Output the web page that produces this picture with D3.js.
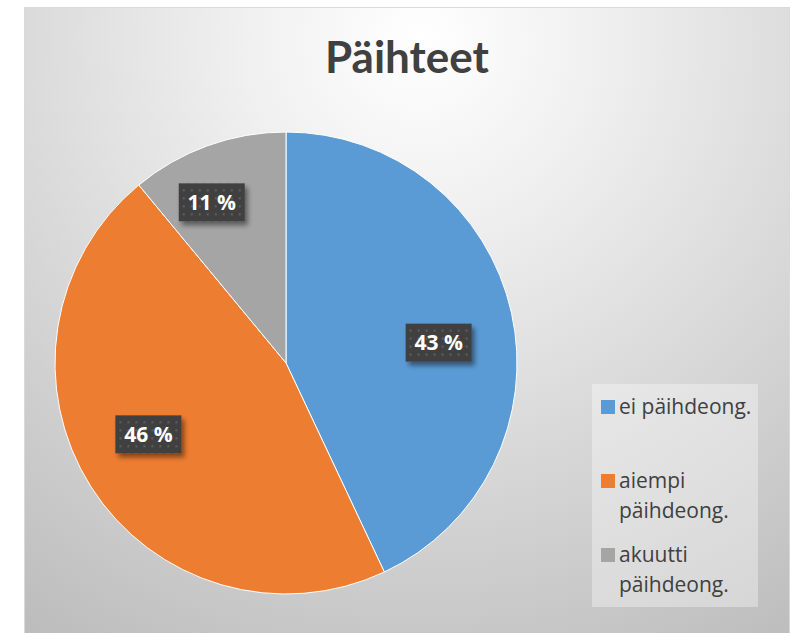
<!DOCTYPE html>
<html>
<head>
<meta charset="utf-8">
<script src="https://cdn.jsdelivr.net/npm/d3@7"></script>
<style>
  body { margin: 0; background: #ffffff; }
  svg { display: block; font-family: "Open Sans", Lato, sans-serif; }
</style>
</head>
<body>
<div id="chart"></div>
<script>
// Size of the page
const width = 798;
const height = 633;

// Chart data
const categories = ["ei päihdeong.", "aiempi päihdeong.", "akuutti päihdeong."];
const legendLines = [["ei päihdeong."], ["aiempi", "päihdeong."], ["akuutti", "päihdeong."]];
const values = [43, 46, 11];
const colors = ["#5B9BD5", "#ED7D31", "#A5A5A5"];
const title = "Päihteet";

// Label placement (best fit like the original)
const labelRadius = [154, 155, 177];
const labelTurn = [5, 5, -5]; // degrees

const svg = d3.select("#chart").append("svg")
    .attr("width", width)
    .attr("height", height);

const defs = svg.append("defs");

// Background gradient, light on top and grey to the edges
const bg = defs.append("radialGradient")
    .attr("id", "bg")
    .attr("gradientUnits", "userSpaceOnUse")
    .attr("cx", 420).attr("cy", 40).attr("r", 700);
bg.append("stop").attr("offset", "0").attr("stop-color", "#ffffff");
bg.append("stop").attr("offset", "0.25").attr("stop-color", "#f0f0f0");
bg.append("stop").attr("offset", "1").attr("stop-color", "#bdbdbd");

// Dotted pattern for the label boxes
const pat = defs.append("pattern")
    .attr("id", "dots")
    .attr("patternUnits", "userSpaceOnUse")
    .attr("width", 8).attr("height", 8);
pat.append("rect").attr("width", 8).attr("height", 8).attr("fill", "#404040");
pat.append("rect").attr("x", 3).attr("y", 3).attr("width", 2).attr("height", 2).attr("fill", "#5e5e5e");

const shadow = defs.append("filter").attr("id", "shadow")
    .attr("x", "-20%").attr("y", "-20%").attr("width", "150%").attr("height", "160%");
shadow.append("feDropShadow")
    .attr("dx", 3).attr("dy", 4).attr("stdDeviation", 2.5)
    .attr("flood-color", "#000").attr("flood-opacity", 0.45);

// Chart area
svg.append("rect")
    .attr("x", 24.5).attr("y", 7.5)
    .attr("width", 765).attr("height", 640)
    .attr("fill", "url(#bg)")
    .attr("stroke", "#d9d9d9");

svg.append("text")
    .attr("x", 407).attr("y", 73)
    .attr("text-anchor", "middle")
    .style("font-family", "Lato, sans-serif")
    .style("font-size", "44px")
    .style("font-weight", "bold")
    .style("fill", "#404040")
    .text(title);

// Pie
const radius = 231;
const cx = 286, cy = 363;

const pie = d3.pie().sort(null).value(d => d);
const arc = d3.arc().innerRadius(0).outerRadius(radius);

const g = svg.append("g").attr("transform", `translate(${cx},${cy})`);

g.selectAll("path")
    .data(pie(values))
    .enter().append("path")
    .attr("d", arc)
    .style("fill", (d, i) => colors[i])
    .style("stroke", "#ffffff")
    .style("stroke-width", 1);

// Data labels
const labelPos = (d, i) => {
    const a = (d.startAngle + d.endAngle) / 2 + labelTurn[i] * Math.PI / 180;
    return [labelRadius[i] * Math.sin(a), -labelRadius[i] * Math.cos(a)];
};

const labels = g.selectAll("g.label")
    .data(pie(values))
    .enter().append("g")
    .attr("class", "label")
    .attr("transform", (d, i) => "translate(" + labelPos(d, i) + ")");

labels.append("rect")
    .attr("x", -33).attr("y", -19)
    .attr("width", 66).attr("height", 38)
    .attr("fill", "url(#dots)")
    .attr("filter", "url(#shadow)");

labels.append("text")
    .attr("dy", "0.36em")
    .attr("text-anchor", "middle")
    .style("font-size", "21px")
    .style("font-weight", "bold")
    .style("fill", "#ffffff")
    .text(d => d.data + " %");

// Legend
svg.append("rect")
    .attr("x", 592).attr("y", 384)
    .attr("width", 166).attr("height", 223)
    .attr("fill", "#ffffff")
    .attr("fill-opacity", 0.35);

const legendY = [400, 474, 548];
const legend = svg.selectAll("g.legend")
    .data(categories)
    .enter().append("g")
    .attr("class", "legend")
    .attr("transform", (d, i) => `translate(601,${legendY[i]})`);

legend.append("rect")
    .attr("width", 14).attr("height", 14)
    .attr("fill", (d, i) => colors[i]);

legend.append("text")
    .style("font-size", "21px")
    .style("fill", "#404040")
    .selectAll("tspan")
    .data((d, i) => legendLines[i])
    .enter().append("tspan")
    .attr("x", 18)
    .attr("y", (d, j) => 14 + j * 30)
    .text(d => d);
</script>
</body>
</html>
